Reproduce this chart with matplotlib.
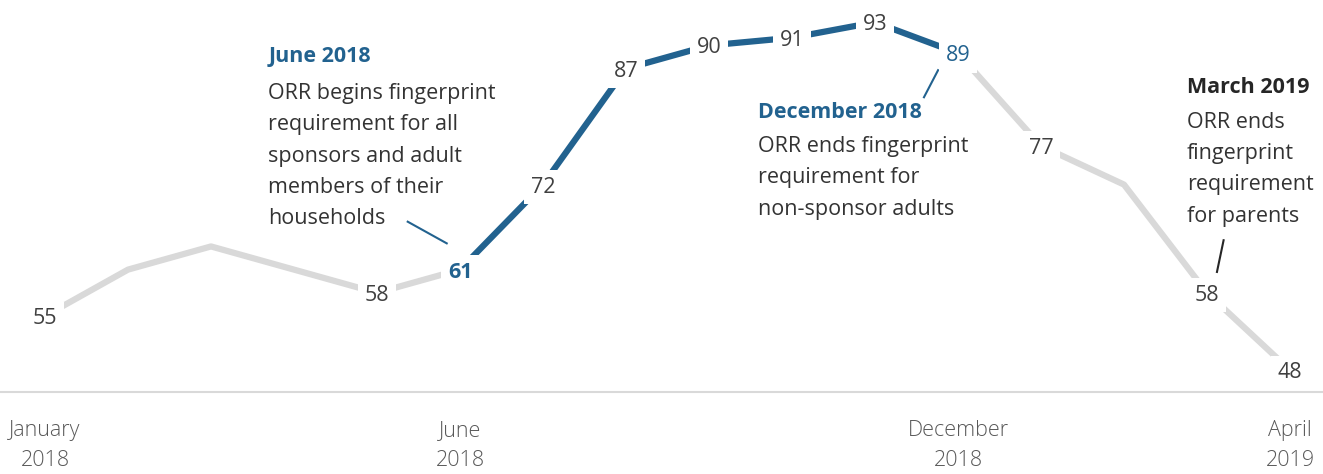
import matplotlib.pyplot as plt

plt.rcParams['font.family'] = ['Open Sans', 'DejaVu Sans']

# monthly values, January 2018 .. April 2019
months = ['Jan 2018', 'Feb 2018', 'Mar 2018', 'Apr 2018', 'May 2018', 'Jun 2018',
          'Jul 2018', 'Aug 2018', 'Sep 2018', 'Oct 2018', 'Nov 2018', 'Dec 2018',
          'Jan 2019', 'Feb 2019', 'Mar 2019', 'Apr 2019']
values = [55, 61, 64, 61, 58, 61, 72, 87, 90, 91, 93, 89, 77, 72, 58, 48]
labeled = [0, 4, 5, 6, 7, 8, 9, 10, 11, 12, 14, 15]
tick_pos = [0, 5, 11, 15]
tick_labels = ['January\n2018', 'June\n2018', 'December\n2018', 'April\n2019']

BLUE = '#22628f'
GRAY = '#d9d9d9'
TEXT = '#333333'
FS = 15.5
LS = 1.64

x = list(range(len(values)))
start, end = 5, 11   # highlighted period (Jun - Dec 2018)

fig = plt.figure(figsize=(13.23, 4.74), dpi=100)
ax = fig.add_axes([0, 82 / 474, 1, 392 / 474])

ax.plot(x[:start + 1], values[:start + 1], color=GRAY, lw=4.5, solid_capstyle='butt', zorder=1)
ax.plot(x[end:], values[end:], color=GRAY, lw=4.5, solid_capstyle='butt', zorder=1)
ax.plot(x[start:end + 1], values[start:end + 1], color=BLUE, lw=4.5, solid_capstyle='butt', zorder=2)

for i in labeled:
    color, weight = '#404040', 'normal'
    if i == start:
        color, weight = BLUE, 'bold'
    elif i == end:
        color = BLUE
    ax.text(x[i], values[i], str(values[i]), ha='center', va='center_baseline',
            fontsize=FS, color=color, fontweight=weight, zorder=3,
            bbox=dict(boxstyle='square,pad=0.3', fc='white', ec='none'))

# annotations (body text anchored on the baseline of its last line)
ax.text(2.69, 87.85, 'June 2018', color=BLUE, fontsize=FS, fontweight='bold', va='baseline')
ax.text(2.69, 66.9, 'ORR begins fingerprint\nrequirement for all\nsponsors and adult\n'
        'members of their\nhouseholds', color=TEXT, fontsize=FS, va='baseline', linespacing=LS)
ax.plot([4.37, 4.84], [67.2, 64.4], color=BLUE, lw=1.5)

ax.text(8.59, 80.6, 'December 2018', color=BLUE, fontsize=FS, fontweight='bold', va='baseline')
ax.text(8.59, 68.1, 'ORR ends fingerprint\nrequirement for\nnon-sponsor adults',
        color=TEXT, fontsize=FS, va='baseline', linespacing=LS)
ax.plot([10.76, 10.59], [86.8, 83.3], color=BLUE, lw=1.5)

ax.text(13.76, 83.85, 'March 2019', color='#262626', fontsize=FS, fontweight='bold', va='baseline')
ax.text(13.76, 67.2, 'ORR ends\nfingerprint\nrequirement\nfor parents',
        color=TEXT, fontsize=FS, va='baseline', linespacing=LS)
ax.plot([14.20, 14.12], [64.8, 60.7], color='#262626', lw=1.5)

ax.set_xlim(-45 / 83, (1323 - 45) / 83)
ax.set_ylim(55 + (316 - 392) / 7.73, 55 + 316 / 7.73)
ax.set_xticks(tick_pos)
ax.set_xticklabels(tick_labels, linespacing=1.6, fontweight='light')
ax.set_yticks([])
ax.tick_params(axis='x', length=0, pad=20, labelsize=FS, labelcolor='#595959')
for side in ['top', 'left', 'right']:
    ax.spines[side].set_visible(False)
ax.spines['bottom'].set_color(GRAY)
ax.spines['bottom'].set_linewidth(1.5)

fig.savefig('out.png', dpi=100)
